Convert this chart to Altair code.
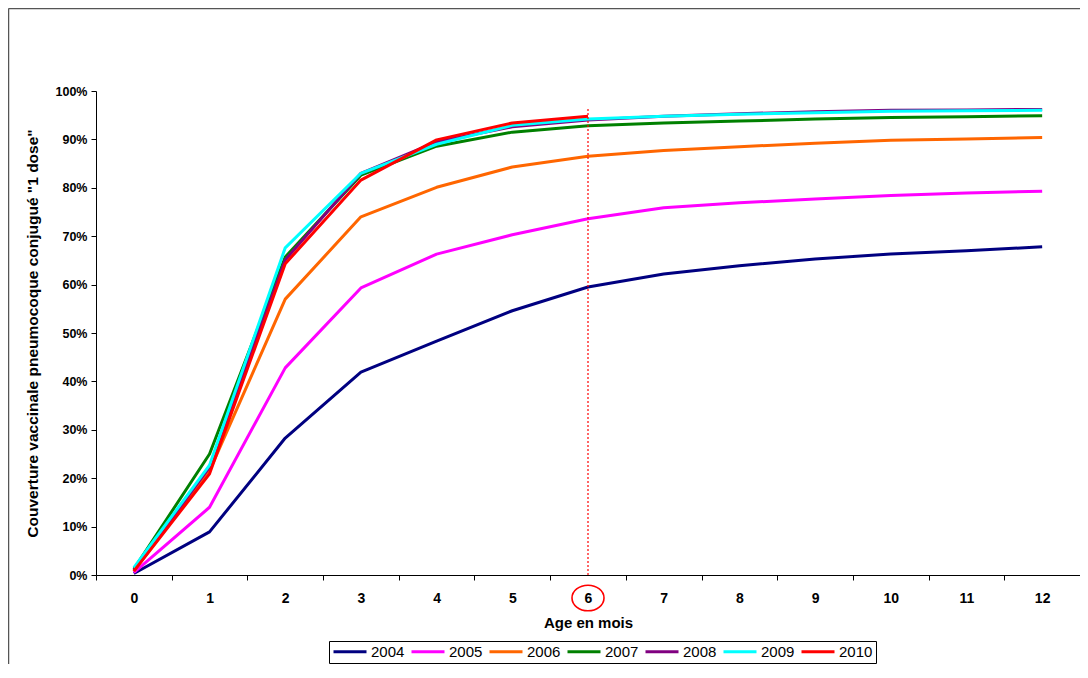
import altair as alt
import pandas as pd

months = list(range(13))
years = ["2004", "2005", "2006", "2007", "2008", "2009", "2010"]
colors = ["#000080", "#FF00FF", "#FF6600", "#008000", "#800080", "#00FFFF", "#FF0000"]
widths = [3, 3, 3, 3, 4, 3, 3]

v2004 = [0.3, 8.9, 28.3, 41.9, 48.3, 54.6, 59.5, 62.2, 63.9, 65.3, 66.3, 67.0, 67.8]
v2005 = [0.5, 14.0, 42.8, 59.3, 66.3, 70.3, 73.6, 75.9, 76.9, 77.7, 78.4, 78.9, 79.3]
v2006 = [0.8, 21.5, 57.0, 74.0, 80.1, 84.3, 86.5, 87.7, 88.5, 89.2, 89.8, 90.1, 90.4]
v2007 = [1.2, 25.0, 65.7, 82.6, 88.6, 91.5, 92.8, 93.4, 93.8, 94.2, 94.5, 94.7, 94.9]
v2008 = [1.0, 22.3, 65.1, 83.0, 89.5, 92.6, 94.0, 94.8, 95.3, 95.7, 96.0, 96.1, 96.2]
v2009 = [1.5, 22.7, 67.6, 83.0, 89.0, 92.9, 94.2, 94.8, 95.2, 95.5, 95.8, 95.9, 96.0]
v2010 = [0.8, 20.9, 64.3, 81.6, 89.9, 93.4, 94.8]

series = [v2004, v2005, v2006, v2007, v2008, v2009, v2010]
rows = []
for yr, vals in zip(years, series):
    for m, v in zip(months, vals):
        rows.append({"month": m, "year": yr, "value": v, "order": years.index(yr)})
df = pd.DataFrame(rows)

marker_month = 6
marker_top = 96.7
marker_df = pd.DataFrame({"month": [marker_month], "y0": [0.0], "y1": [marker_top]})

FONT = "Liberation Sans"
W, H = 984, 484
PAD_L, PAD_T, PAD_B = 88, 83, 89

xenc = alt.X(
    "month:O",
    bandPosition=0.5,
    scale=alt.Scale(type="band", domain=months, paddingInner=0, paddingOuter=0),
    axis=alt.Axis(
        title="Age en mois", labelAngle=0, tickBand="extent", tickSize=5,
        labelPadding=11, titlePadding=10, labelFontSize=14, titleFontSize=15,
    ),
)

lines = alt.Chart(df).mark_line(strokeJoin="round").encode(
    x=xenc,
    y=alt.Y(
        "value:Q",
        scale=alt.Scale(domain=[0, 100], nice=False),
        axis=alt.Axis(
            title='Couverture vaccinale pneumocoque conjugué "1 dose"',
            values=list(range(0, 101, 10)), labelExpr="datum.value + '%'",
            tickSize=5, labelPadding=4, titlePadding=15, grid=False,
            labelFontSize=12.5, titleFontSize=15.5,
        ),
    ),
    color=alt.Color(
        "year:N",
        scale=alt.Scale(domain=years, range=colors),
        legend=alt.Legend(
            title=None, orient="none", legendX=233, legendY=H + 66,
            direction="horizontal", columns=7, symbolType="stroke",
            symbolSize=1089, symbolStrokeWidth=3, labelOffset=3,
            columnPadding=5, padding=3, clipHeight=15, strokeColor="black",
            fillColor="white", labelFontSize=15, labelFont=FONT,
            labelColor="black",
        ),
    ),
    strokeWidth=alt.StrokeWidth("year:N", scale=alt.Scale(domain=years, range=widths), legend=None),
    order=alt.Order("order:Q"),
)

rule = alt.Chart(marker_df).mark_rule(color="#FF0000", strokeDash=[2, 2], strokeWidth=1.2).encode(
    x=alt.X("month:O", bandPosition=0.5), y="y0:Q", y2="y1:Q"
)

circle = alt.Chart(marker_df).mark_point(
    shape="M -1 0 A 1 0.8 0 1 1 1 0 A 1 0.8 0 1 1 -1 0 Z",
    filled=False, color="#FF0000", strokeWidth=1.6, size=1024, opacity=1,
).encode(x=alt.X("month:O", bandPosition=0.5), y=alt.value(H + 23))

frame_top = alt.Chart(marker_df).mark_rule(color="#555555", strokeWidth=1.5).encode(
    x=alt.value(-PAD_L + 0.5), x2=alt.value(W), y=alt.value(-PAD_T + 0.5)
)
frame_left = alt.Chart(marker_df).mark_rule(color="#555555", strokeWidth=1.5).encode(
    x=alt.value(-PAD_L + 0.5), y=alt.value(-PAD_T + 0.5), y2=alt.value(H + PAD_B)
)

chart = alt.layer(lines, rule, circle, frame_top, frame_left).properties(
    width=W, height=H,
    autosize=alt.AutoSizeParams(type="none"),
    padding={"left": PAD_L, "top": PAD_T, "right": 0, "bottom": PAD_B},
    background="white",
).configure_view(stroke=None).configure_axis(
    labelFont=FONT, titleFont=FONT, labelFontWeight="bold", titleFontWeight="bold",
    labelColor="black", titleColor="black", domainColor="black", tickColor="black",
    domainWidth=1, tickWidth=1,
)

chart.save("out.html", embed_options={"renderer": "svg", "actions": False})
